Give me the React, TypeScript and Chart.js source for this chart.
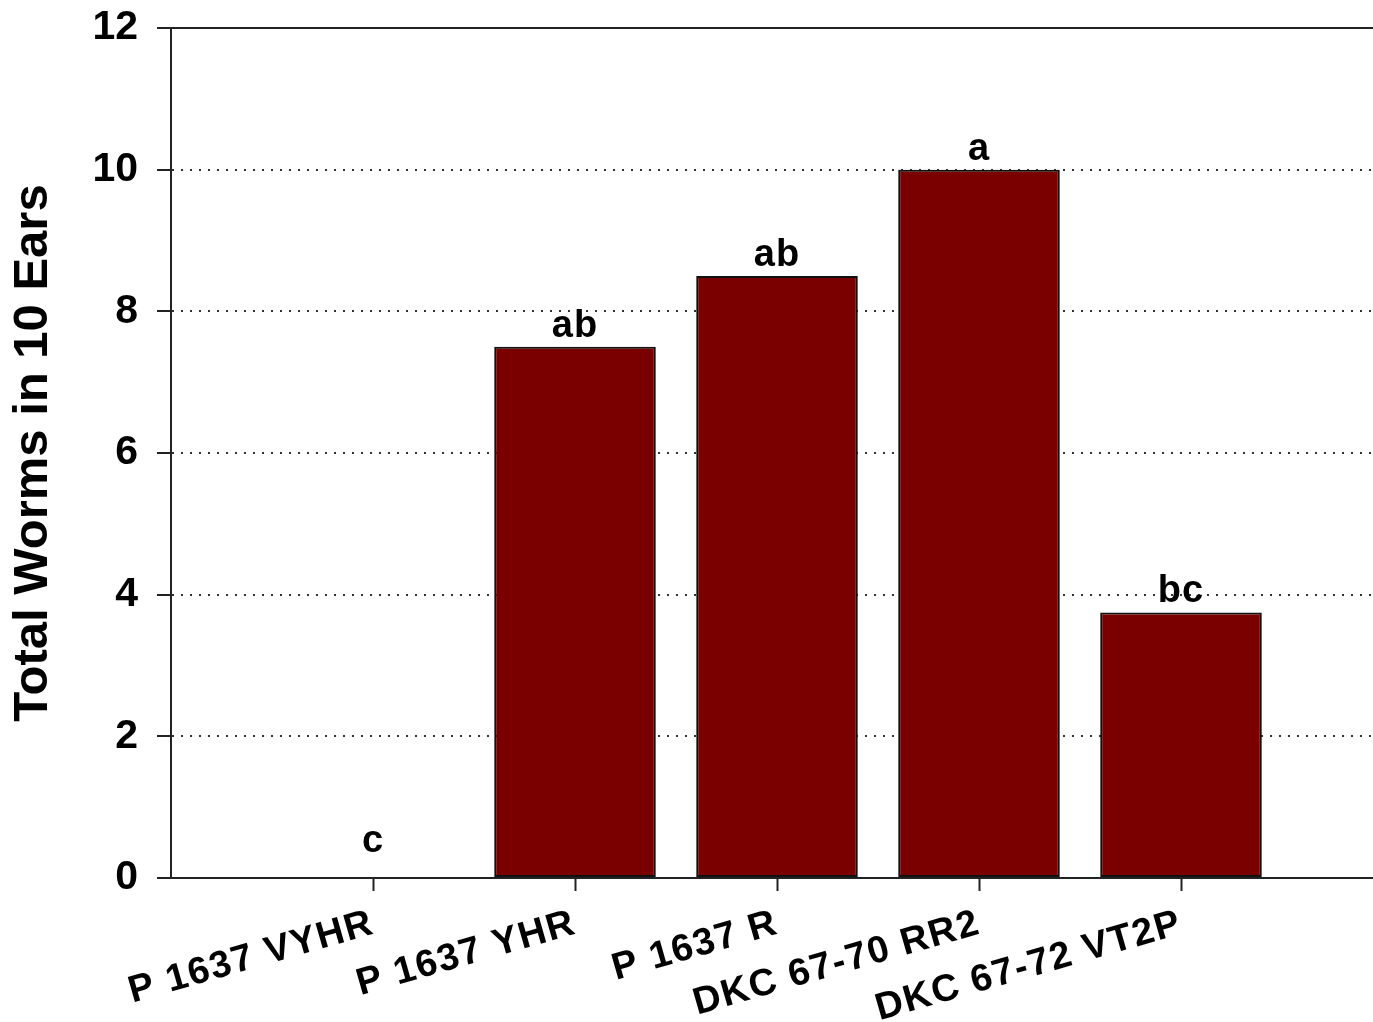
import React, { useEffect, useRef } from 'react';
import { Chart, registerables } from 'chart.js';

Chart.register(...registerables);

const FONT = '"Liberation Sans", Arial, Helvetica, sans-serif';

const categories = ['P 1637 VYHR', 'P 1637 YHR', 'P 1637 R', 'DKC 67-70 RR2', 'DKC 67-72 VT2P'];
const values = [0, 7.5, 8.5, 10, 3.75];
const letters = ['c', 'ab', 'ab', 'a', 'bc'];
const yMin = 0;
const yMax = 12;
const yStep = 2;
const yTitle = 'Total Worms in 10 Ears';

export default function App() {
  const ref = useRef<HTMLCanvasElement>(null);

  useEffect(() => {
    if (!ref.current) return;

    const lettersPlugin = {
      id: 'letters',
      afterDatasetsDraw(chart: any) {
        const ctx = chart.ctx;
        const meta = chart.getDatasetMeta(0);
        const zero = chart.scales.y.getPixelForValue(0);
        ctx.save();
        ctx.font = `bold 38px ${FONT}`;
        (ctx as any).letterSpacing = '1px';
        ctx.fillStyle = '#000';
        ctx.textAlign = 'center';
        ctx.textBaseline = 'alphabetic';
        meta.data.forEach((bar: any, i: number) => {
          const top = Math.min(bar.y, zero - 16);
          ctx.fillText(letters[i], bar.x, top - 10);
        });
        ctx.restore();
        // slightly wider letter spacing for the x tick labels drawn after datasets
        (ctx as any).letterSpacing = '1.5px';
      },
      afterDraw(chart: any) {
        (chart.ctx as any).letterSpacing = '0px';
      },
    };

    const chart = new Chart(ref.current, {
      type: 'bar',
      data: {
        datasets: [
          {
            data: values.map((v, i) => ({ x: i + 1, y: v })),
            backgroundColor: '#7a0000',
            borderColor: '#111',
            borderWidth: 2,
            borderSkipped: false,
            barPercentage: 0.8,
            categoryPercentage: 1,
          },
        ],
      },
      options: {
        responsive: false,
        animation: false,
        layout: { padding: { top: 28, left: 0, right: 0, bottom: 0 } },
        plugins: { legend: { display: false }, tooltip: { enabled: false } },
        scales: {
          x: {
            type: 'linear',
            min: 0,
            max: categories.length + 1,
            offset: false,
            afterBuildTicks: (s: any) => {
              s.ticks = categories.map((_, i) => ({ value: i + 1 }));
            },
            afterFit: (s: any) => {
              s.height = 144;
              s.paddingLeft = 0;
              s.paddingRight = 0;
            },
            grid: {
              offset: false,
              drawOnChartArea: false,
              drawTicks: true,
              tickLength: 13,
              tickColor: '#222',
              tickWidth: 2,
            },
            border: { display: true, color: '#222', width: 2 },
            ticks: {
              autoSkip: false,
              minRotation: 16,
              maxRotation: 16,
              padding: 10,
              color: '#000',
              z: 1,
              font: { family: FONT, size: 38, weight: 'bold' },
              callback: (v: any) => categories[Math.round(Number(v)) - 1] ?? '',
            },
          },
          y: {
            min: yMin,
            max: yMax,
            afterFit: (s: any) => {
              s.width = 171;
              s.paddingTop = 0;
              s.paddingBottom = 0;
            },
            ticks: {
              stepSize: yStep,
              padding: 19,
              color: '#000',
              font: { family: FONT, size: 41, weight: 'bold' },
            },
            grid: {
              color: (c: any) => (c.tick && c.tick.value === yMin ? 'rgba(0,0,0,0)' : (c.tick && c.tick.value === yMax ? '#222' : '#333')),
              lineWidth: 2,
              drawTicks: true,
              tickLength: 14,
              tickColor: '#222',
              tickWidth: 2,
              tickBorderDash: [],
            },
            border: {
              display: true,
              color: '#222',
              width: 2,
              dash: (c: any) => (c.tick && c.tick.value !== yMax ? [2, 7] : []),
            },
            title: {
              display: true,
              text: yTitle,
              color: '#000',
              font: { family: FONT, size: 49, weight: 'bold', lineHeight: 1.2 },
              padding: { top: 4, bottom: 0 },
            },
          },
        },
      } as any,
      plugins: [lettersPlugin],
    });

    return () => chart.destroy();
  }, []);

  return (
    <div
      style={{
        position: 'fixed',
        left: 0,
        top: 0,
        width: 1373,
        height: 1022,
        overflow: 'hidden',
        background: '#fff',
      }}
    >
      <canvas ref={ref} width={1383} height={1022} style={{ display: 'block' }} />
    </div>
  );
}
